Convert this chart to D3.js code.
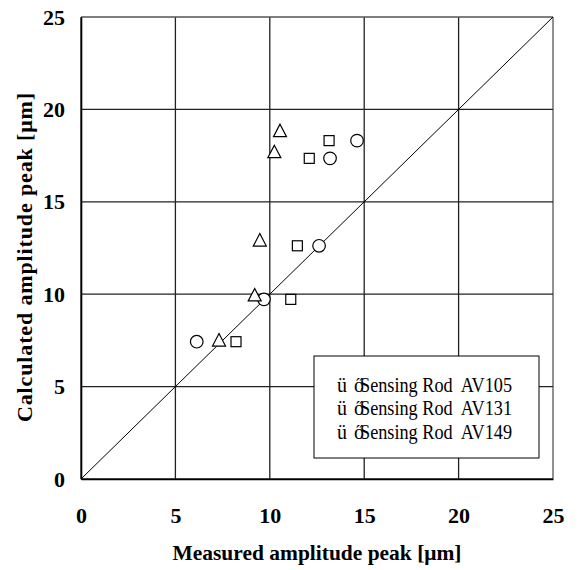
<!DOCTYPE html>
<html>
<head>
<meta charset="utf-8">
<script src="https://cdn.jsdelivr.net/npm/d3@7"></script>
<style>
body { margin: 0; background: #fff; }
text { font-family: "Liberation Serif", "Times New Roman", serif; white-space: pre; }
</style>
</head>
<body>
<div id="chart"></div>
<script>
// tick values on both axes
var ticks = [0, 5, 10, 15, 20, 25];

// measured (x) and calculated (y) amplitude peaks, per sensing rod
var circleX = [6.13, 9.69, 12.61, 13.19, 14.62];
var circleY = [7.43, 9.72, 12.62, 17.35, 18.31];
var squareX = [8.21, 11.11, 11.46, 12.09, 13.14];
var squareY = [7.43, 9.72, 12.62, 17.35, 18.31];
var triangleX = [7.31, 9.2, 9.47, 10.24, 10.54];
var triangleY = [7.52, 9.96, 12.93, 17.71, 18.85];

var legendLabels = ["Sensing Rod  AV105", "Sensing Rod  AV131", "Sensing Rod  AV149"];

var W = 584, H = 570;
var pLeft = 81, pRight = 553, pTop = 17, pBottom = 479;

var svg = d3.select("#chart").append("svg")
    .attr("width", W)
    .attr("height", H);

var x = d3.scaleLinear().domain([0, 25]).range([pLeft, pRight]);
var y = d3.scaleLinear().domain([0, 25]).range([pBottom, pTop]);

// grid
var grid = svg.append("g");
grid.selectAll(".vx").data(ticks).enter().append("line")
    .attr("x1", d => x(d)).attr("x2", d => x(d))
    .attr("y1", pTop).attr("y2", pBottom)
    .attr("stroke", d => d == 25 ? "#555" : "#222").attr("stroke-width", 1.3);
grid.selectAll(".hy").data(ticks).enter().append("line")
    .attr("y1", d => y(d)).attr("y2", d => y(d))
    .attr("x1", pLeft).attr("x2", pRight)
    .attr("stroke", d => d == 25 ? "#555" : "#222").attr("stroke-width", 1.3);

// diagonal y = x
svg.append("line")
    .attr("x1", x(0)).attr("y1", y(0))
    .attr("x2", x(25)).attr("y2", y(25))
    .attr("stroke", "#000").attr("stroke-width", 1);

// axes (labels only, lines drawn by grid)
var xAxis = svg.append("g")
    .attr("transform", "translate(0," + pBottom + ")")
    .call(d3.axisBottom(x).tickValues(ticks).tickSize(0).tickPadding(28));
var yAxis = svg.append("g")
    .attr("transform", "translate(" + pLeft + ",0)")
    .call(d3.axisLeft(y).tickValues(ticks).tickSize(0).tickPadding(16));
[xAxis, yAxis].forEach(function(a) {
    a.select(".domain").attr("stroke", "#000").attr("stroke-width", 1.6);
    a.selectAll("text")
        .attr("font-family", "Liberation Serif")
        .attr("font-size", 22)
        .attr("font-weight", "bold")
        .attr("fill", "#000");
});

// axis titles
svg.append("text")
    .attr("x", 317)
    .attr("y", 560)
    .attr("text-anchor", "middle")
    .attr("font-size", 21.5)
    .attr("font-weight", "bold")
    .attr("textLength", 289)
    .attr("lengthAdjust", "spacingAndGlyphs")
    .text("Measured amplitude peak [\u03bcm]");
svg.append("text")
    .attr("transform", "translate(32,257.5) rotate(-90)")
    .attr("text-anchor", "middle")
    .attr("font-size", 22)
    .attr("font-weight", "bold")
    .attr("textLength", 329)
    .attr("lengthAdjust", "spacing")
    .text("Calculated amplitude peak [\u03bcm]");

// markers
var marks = svg.append("g")
    .attr("fill", "#fff").attr("stroke", "#000").attr("stroke-width", 1.2);

marks.selectAll(".c").data(d3.zip(circleX, circleY)).enter().append("circle")
    .attr("cx", d => x(d[0])).attr("cy", d => y(d[1])).attr("r", 6.3);

marks.selectAll(".s").data(d3.zip(squareX, squareY)).enter().append("rect")
    .attr("x", d => x(d[0]) - 5).attr("y", d => y(d[1]) - 5)
    .attr("width", 10).attr("height", 10);

// open triangle centred on its bounding box
var tri = "M0,-6.5L6.5,6L-6.5,6Z";
marks.selectAll(".t").data(d3.zip(triangleX, triangleY)).enter().append("path")
    .attr("d", tri)
    .attr("transform", d => "translate(" + x(d[0]) + "," + y(d[1]) + ")");

// legend
var lg = svg.append("g");
lg.append("rect")
    .attr("x", 314).attr("y", 356)
    .attr("width", 225).attr("height", 102)
    .attr("fill", "#fff").attr("stroke", "#000").attr("stroke-width", 1);
legendLabels.forEach(function(l, i) {
    var yy = 392 + i * 23.3;
    lg.append("text")
        .attr("x", 337).attr("y", yy)
        .attr("font-size", 20)
        .text("\u00fc");
    lg.append("text")
        .attr("x", 354).attr("y", yy)
        .attr("font-size", 20)
        .text("\u0151");
    lg.append("text")
        .attr("x", 360).attr("y", yy)
        .attr("font-size", 20)
        .attr("textLength", 152)
        .attr("lengthAdjust", "spacingAndGlyphs")
        .text(l);
});
</script>
</body>
</html>
